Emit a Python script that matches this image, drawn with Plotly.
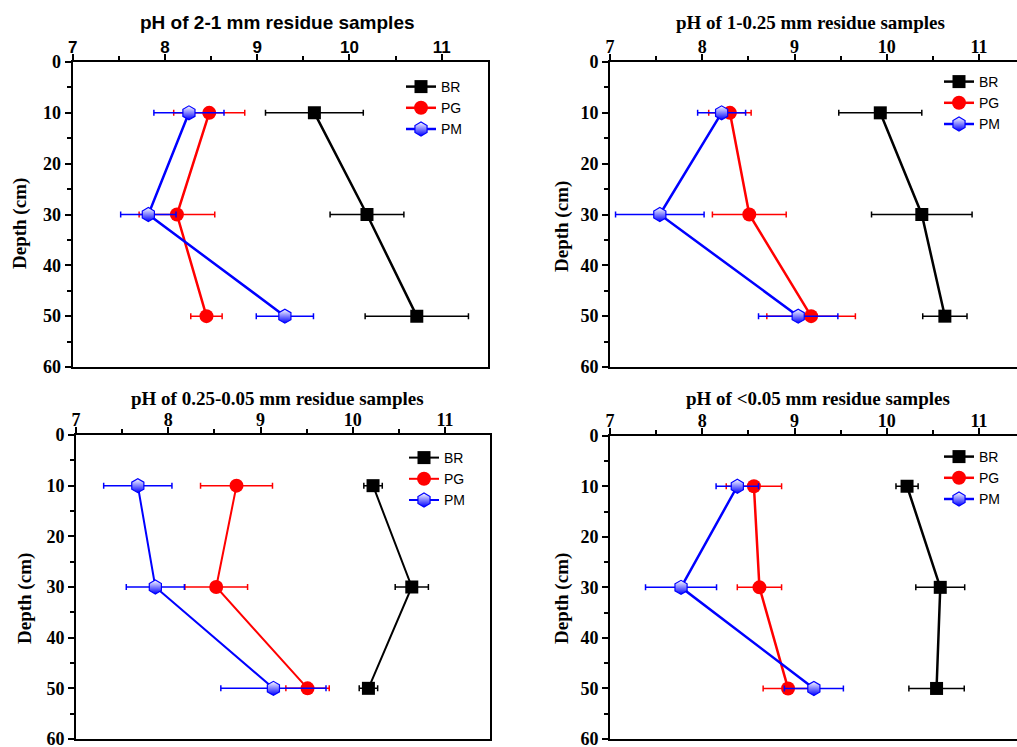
import plotly.graph_objects as go

depth = [10, 30, 50]
series_names = ["BR", "PG", "PM"]

titles = ["pH of 2-1 mm residue samples", "pH of 1-0.25 mm residue samples",
          "pH of 0.25-0.05 mm residue samples", "pH of <0.05 mm residue samples"]

# pH means and error (half-width) per panel, per series
br_ph = [[9.62, 10.19, 10.73], [9.93, 10.38, 10.63], [10.22, 10.64, 10.17], [10.22, 10.58, 10.54]]
br_err = [[0.53, 0.40, 0.56], [0.45, 0.545, 0.24], [0.10, 0.18, 0.10], [0.12, 0.265, 0.30]]
pg_ph = [[8.48, 8.13, 8.45], [8.30, 8.51, 9.18], [8.74, 8.52, 9.51], [8.56, 8.62, 8.93]]
pg_err = [[0.385, 0.41, 0.17], [0.23, 0.40, 0.48], [0.39, 0.34, 0.235], [0.30, 0.24, 0.27]]
pm_ph = [[8.26, 7.82, 9.30], [8.21, 7.54, 9.04], [7.67, 7.86, 9.14], [8.38, 7.77, 9.21]]
pm_err = [[0.38, 0.30, 0.31], [0.26, 0.48, 0.43], [0.37, 0.315, 0.57], [0.23, 0.385, 0.32]]

x_ticks = [7, 8, 9, 10, 11]
y_ticks = [0, 10, 20, 30, 40, 50, 60]

W, H = 1017, 747
SERIF = "Liberation Serif, Times New Roman, serif"
SANS = "Liberation Sans, Arial, sans-serif"

# panel geometry in pixels: left, right, top, bottom
panels = [
    (72.7, 487.7, 62, 367),
    (610, 1017, 62, 367),
    (76, 490, 435, 739),
    (610, 1017, 435.7, 739),
]
legend_pos = [(401, 71), (939, 66), (404, 442), (939, 441)]
title_pos = [(277.5, 22), (810, 22), (277, 398), (818, 398)]
ytitle_pos = [(20, 224), (562, 227), (25, 599), (562, 599)]
line_w = [2.5, 2.5, 2.0, 2.5]

fig = go.Figure()
colors = {"BR": "black", "PG": "red", "PM": "blue"}

for i in range(4):
    xa = "x" if i == 0 else f"x{i+1}"
    ya = "y" if i == 0 else f"y{i+1}"
    leg = "legend" if i == 0 else f"legend{i+1}"
    data = {"BR": (br_ph[i], br_err[i]), "PG": (pg_ph[i], pg_err[i]), "PM": (pm_ph[i], pm_err[i])}
    for name in series_names:
        vals, errs = data[name]
        c = colors[name]
        if name == "BR":
            marker = dict(symbol="square", size=13, color="black")
        elif name == "PG":
            marker = dict(symbol="circle", size=14, color="red")
        else:
            marker = dict(symbol="hexagon", size=14, color="white",
                          gradient=dict(type="vertical", color="blue"),
                          line=dict(color="blue", width=1.2))
        fig.add_trace(go.Scatter(
            x=vals, y=depth, name=name, mode="lines+markers",
            line=dict(color=c, width=line_w[i]), marker=marker,
            error_x=dict(type="data", array=errs, visible=True, color=c, thickness=1.5, width=3),
            xaxis=xa, yaxis=ya, legend=leg, showlegend=True,
        ))

layout = dict(width=W, height=H, margin=dict(l=0, r=0, t=0, b=0, pad=0, autoexpand=False),
              paper_bgcolor="white", plot_bgcolor="white", showlegend=True)
annotations = []
for i, (l, r, t, b) in enumerate(panels):
    sfx = "" if i == 0 else str(i + 1)
    xd = [l / W, r / W]
    yd = [1 - b / H, 1 - t / H]
    xmax = 7 + (r - l) / 92.25
    xfont = dict(family=SANS if i == 0 else SERIF, size=17 if i == 0 else 18, color="black", weight="bold")
    layout["xaxis" + sfx] = dict(
        domain=xd, range=[7, xmax], side="top", anchor="y" + sfx,
        tickvals=x_ticks, ticks="outside", ticklen=6, tickwidth=2, tickcolor="black",
        showline=True, linecolor="black", linewidth=2, mirror=True,
        showgrid=False, zeroline=False, tickfont=xfont, automargin=False,
        ticklabelstandoff=-6, ticklabeloverflow="allow",
        minor=dict(dtick=0.5, tick0=7, ticks="outside", ticklen=4, tickwidth=2, tickcolor="black", showgrid=False),
    )
    layout["yaxis" + sfx] = dict(
        domain=yd, range=[60, 0], anchor="x" + sfx,
        tickvals=y_ticks, ticks="outside", ticklen=6, tickwidth=2, tickcolor="black",
        showline=True, linecolor="black", linewidth=2, mirror=(i in (0, 2)),
        showgrid=False, zeroline=False, automargin=False, ticklabeloverflow="allow",
        tickfont=dict(family=SERIF, size=18, color="black", weight="bold"),
        minor=dict(dtick=5, ticks="outside", ticklen=4, tickwidth=2, tickcolor="black", showgrid=False),
    )
    lx, ly = legend_pos[i]
    layout["legend" + sfx] = dict(
        x=lx / W, y=1 - ly / H, xanchor="left", yanchor="top", xref="paper", yref="paper",
        bgcolor="rgba(0,0,0,0)", borderwidth=0, tracegroupgap=0,
        font=dict(family=SANS, size=14, color="black"),
    )
    tx, ty = title_pos[i]
    annotations.append(dict(
        text=titles[i], x=tx / W, y=1 - ty / H,
        xref="paper", yref="paper", showarrow=False, xanchor="center", yanchor="middle",
        font=dict(family=SANS if i == 0 else SERIF, size=19, color="black", weight="bold"),
    ))
    yx, yy = ytitle_pos[i]
    annotations.append(dict(
        text="Depth (cm)", x=yx / W, y=1 - yy / H, xref="paper", yref="paper",
        showarrow=False, textangle=-90, xanchor="center", yanchor="middle",
        font=dict(family=SERIF, size=19, color="black", weight="bold"),
    ))

layout["annotations"] = annotations
fig.update_layout(**layout)
fig.write_html("out.html")
